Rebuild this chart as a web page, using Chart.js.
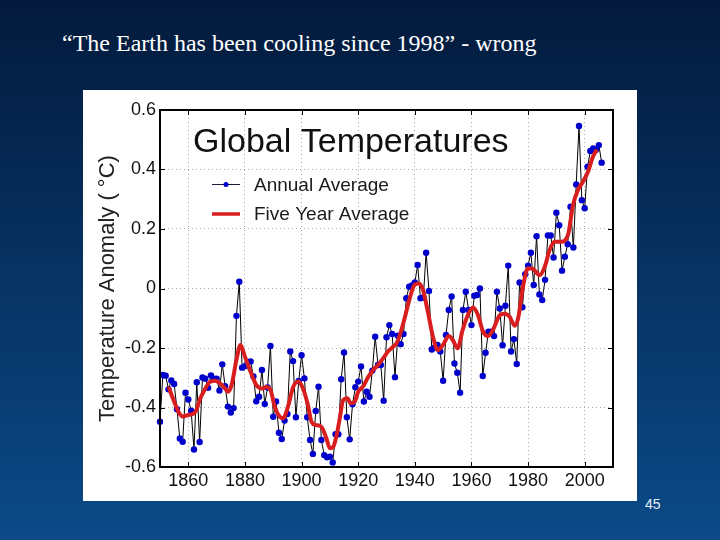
<!DOCTYPE html>
<html lang="en">
<head>
  <meta charset="UTF-8" />
  <title>Global Temperatures</title>
  <script src="https://cdn.jsdelivr.net/npm/chart.js"></script>
  <style>
    body {
      margin: 0;
      width: 720px;
      height: 540px;
      overflow: hidden;
      position: relative;
      background: linear-gradient(to bottom, #031a3c 0%, #0b4a88 100%);
      font-family: 'Liberation Serif', 'Times New Roman', serif;
    }
    .slide-title {
      position: absolute;
      left: 62px;
      top: 31px;
      font-size: 24px;
      line-height: 24px;
      color: #fff;
      white-space: nowrap;
    }
    .panel {
      position: absolute;
      left: 83px;
      top: 90px;
      width: 554px;
      height: 411px;
      background: #fff;
    }
    .page-num {
      position: absolute;
      left: 645px;
      top: 496px;
      font-family: 'Liberation Sans', Arial, sans-serif;
      font-size: 14px;
      line-height: 16px;
      color: #e8eef8;
    }
  </style>
</head>
<body>
  <div class="slide-title">“The Earth has been cooling since 1998” - wrong</div>
  <div class="panel">
    <canvas id="tempChart" width="554" height="411"></canvas>
  </div>
  <div class="page-num">45</div>

  <script>
    // annual values, one per year starting 1850
    const firstYear = 1850;
    const annualValues = [
      -0.448, -0.291, -0.293, -0.339, -0.309, -0.321, -0.406, -0.504, -0.515, -0.350,
      -0.373, -0.411, -0.541, -0.315, -0.516, -0.299, -0.303, -0.334, -0.292, -0.303,
      -0.303, -0.343, -0.255, -0.328, -0.397, -0.417, -0.402, -0.092, 0.023, -0.266,
      -0.261, -0.247, -0.245, -0.296, -0.379, -0.364, -0.274, -0.388, -0.333, -0.193,
      -0.431, -0.380, -0.485, -0.506, -0.444, -0.422, -0.212, -0.244, -0.433, -0.311,
      -0.224, -0.302, -0.433, -0.509, -0.556, -0.412, -0.330, -0.509, -0.560, -0.567,
      -0.565, -0.585, -0.490, -0.490, -0.305, -0.215, -0.433, -0.507, -0.389, -0.332,
      -0.313, -0.262, -0.380, -0.347, -0.364, -0.276, -0.162, -0.257, -0.257, -0.377,
      -0.164, -0.123, -0.153, -0.298, -0.159, -0.187, -0.153, -0.033, 0.006, 0.010,
      0.020, 0.079, -0.033, -0.030, 0.120, -0.008, -0.205, -0.198, -0.190, -0.212,
      -0.310, -0.156, -0.072, -0.027, -0.252, -0.283, -0.350, -0.072, -0.011, -0.072,
      -0.123, -0.024, -0.022, 0.000, -0.294, -0.216, -0.145, -0.145, -0.160, -0.011,
      -0.067, -0.191, -0.058, 0.077, -0.212, -0.170, -0.254, 0.020, -0.063, 0.048,
      0.077, 0.120, 0.012, 0.176, -0.020, -0.039, 0.029, 0.178, 0.178, 0.104,
      0.255, 0.213, 0.060, 0.107, 0.149, 0.275, 0.138, 0.350, 0.546, 0.297,
      0.270, 0.409, 0.462, 0.471, 0.466, 0.482, 0.423
    ];

    // five year average
    const fiveYearYears = [
      1853, 1855, 1856.5, 1858, 1860, 1862, 1863, 1864, 1866, 1867.5,
      1869.5, 1871, 1873, 1874, 1875.3, 1877, 1878.4, 1880, 1882, 1884,
      1886, 1887.6, 1889, 1890.5, 1892.3, 1893.5, 1895.2, 1897, 1898.8, 1900.5,
      1902.3, 1903.5, 1905.2, 1907, 1908.8, 1910, 1911.2, 1912.4, 1913.5, 1914.7,
      1916.2, 1917.3, 1918.8, 1920, 1921.8, 1923.5, 1925.3, 1927, 1928.8, 1930.5,
      1932.3, 1933.5, 1934.6, 1936.4, 1938.2, 1939.9, 1941.4, 1942.9, 1944.6, 1946.4,
      1948.1, 1949.9, 1952, 1953.4, 1955.1, 1956.9, 1958.7, 1960.6, 1962.3, 1964.1,
      1965.8, 1967.6, 1970, 1971.7, 1973.5, 1975.3, 1976.5, 1978.2, 1980, 1981.7,
      1984.1, 1985.9, 1987.6, 1989.4, 1991.7, 1994.1, 1995.9, 1997.6, 1999.4, 2001.2,
      2002.9, 2004.3
    ];
    const fiveYearValues = [
      -0.330, -0.380, -0.414, -0.430, -0.425, -0.420, -0.405, -0.375, -0.336, -0.315,
      -0.310, -0.317, -0.336, -0.347, -0.324, -0.240, -0.190, -0.229, -0.280, -0.324,
      -0.336, -0.331, -0.340, -0.397, -0.431, -0.436, -0.397, -0.332, -0.313, -0.336,
      -0.394, -0.448, -0.459, -0.465, -0.504, -0.537, -0.532, -0.492, -0.436, -0.375,
      -0.369, -0.386, -0.380, -0.347, -0.328, -0.298, -0.274, -0.257, -0.235, -0.212,
      -0.196, -0.185, -0.160, -0.100, -0.033, 0.012, 0.017, -0.005, -0.078, -0.162,
      -0.207, -0.190, -0.160, -0.173, -0.201, -0.139, -0.090, -0.064, -0.089, -0.145,
      -0.160, -0.139, -0.090, -0.085, -0.095, -0.125, -0.100, 0.006, 0.068, 0.066,
      0.045, 0.073, 0.129, 0.157, 0.157, 0.180, 0.281, 0.331, 0.359, 0.393,
      0.443, 0.466
    ];

    const xTickYears = [1860, 1880, 1900, 1920, 1940, 1960, 1980, 2000];
    const yTickValues = [-0.6, -0.4, -0.2, 0, 0.2, 0.4, 0.6];

    const annualPoints = annualValues.map((v, i) => ({ x: firstYear + i, y: v }));
    const fivePoints = fiveYearYears.map((yr, i) => ({ x: yr, y: fiveYearValues[i] }));

    const sansFont = "'Liberation Sans', Arial, Helvetica, sans-serif";

    // black frame, inward ticks, in-plot title and legend
    const framePlugin = {
      id: 'frame',
      afterDatasetsDraw(chart) {
        const { ctx, chartArea: a, scales } = chart;
        ctx.save();
        ctx.strokeStyle = '#000';
        ctx.lineWidth = 1;
        ctx.beginPath();
        xTickYears.forEach(yr => {
          const px = Math.round(scales.x.getPixelForValue(yr)) + 0.5;
          ctx.moveTo(px, a.bottom); ctx.lineTo(px, a.bottom - 5);
          ctx.moveTo(px, a.top); ctx.lineTo(px, a.top + 5);
        });
        yTickValues.forEach(v => {
          const py = Math.round(scales.y.getPixelForValue(v)) + 0.5;
          ctx.moveTo(a.left, py); ctx.lineTo(a.left + 5, py);
          ctx.moveTo(a.right, py); ctx.lineTo(a.right - 5, py);
        });
        ctx.stroke();

        ctx.lineWidth = 2;
        ctx.strokeRect(a.left, a.top, a.right - a.left, a.bottom - a.top);

        ctx.fillStyle = '#111';
        ctx.textBaseline = 'alphabetic';
        ctx.textAlign = 'left';
        ctx.font = '34px ' + sansFont;
        ctx.fillText('Global Temperatures', a.left + 33, a.top + 42);

        // legend
        const lx = a.left + 52;
        ctx.strokeStyle = '#1a1a3a';
        ctx.lineWidth = 1;
        ctx.beginPath();
        ctx.moveTo(lx, a.top + 74.5); ctx.lineTo(lx + 28, a.top + 74.5);
        ctx.stroke();
        ctx.fillStyle = '#0000cc';
        ctx.beginPath();
        ctx.arc(lx + 14, a.top + 74.5, 2.5, 0, Math.PI * 2);
        ctx.fill();
        ctx.strokeStyle = '#d81e1e';
        ctx.lineWidth = 3.5;
        ctx.beginPath();
        ctx.moveTo(lx, a.top + 104); ctx.lineTo(lx + 28, a.top + 104);
        ctx.stroke();

        ctx.fillStyle = '#1a1a1a';
        ctx.font = '19px ' + sansFont;
        ctx.fillText('Annual Average', a.left + 94, a.top + 81);
        ctx.fillText('Five Year Average', a.left + 94, a.top + 110);
        ctx.restore();
      }
    };

    const ctx = document.getElementById('tempChart').getContext('2d');
    new Chart(ctx, {
      type: 'line',
      data: {
        datasets: [
          {
            label: 'Five Year Average',
            data: fivePoints,
            borderColor: '#d81e1e',
            borderWidth: 4,
            pointRadius: 0,
            cubicInterpolationMode: 'monotone',
            fill: false,
            order: 0
          },
          {
            label: 'Annual Average',
            data: annualPoints,
            borderColor: '#000',
            borderWidth: 1,
            pointRadius: 3.2,
            pointBorderWidth: 0,
            pointBackgroundColor: '#0000cc',
            pointBorderColor: '#0000cc',
            tension: 0,
            fill: false,
            clip: false,
            order: 1
          }
        ]
      },
      options: {
        responsive: false,
        animation: false,
        devicePixelRatio: 1,
        layout: { padding: { top: 20, right: 24, bottom: 0, left: 0 } },
        plugins: {
          legend: { display: false },
          tooltip: { enabled: false }
        },
        scales: {
          x: {
            type: 'linear',
            min: 1850,
            max: 2010,
            afterFit: scale => { scale.height = 34; },
            afterBuildTicks: scale => { scale.ticks = xTickYears.map(v => ({ value: v })); },
            ticks: {
              callback: v => String(v),
              font: { family: sansFont, size: 18 },
              color: '#111',
              padding: 3,
              maxRotation: 0,
              autoSkip: false
            },
            grid: { color: '#a8a8a8', lineWidth: 1, drawTicks: false },
            border: { display: false, dash: [1, 3] }
          },
          y: {
            min: -0.6,
            max: 0.6,
            afterFit: scale => { scale.width = 77; },
            afterBuildTicks: scale => { scale.ticks = yTickValues.map(v => ({ value: v })); },
            ticks: {
              callback: v => (v === 0 ? '0' : v.toFixed(1)),
              font: { family: sansFont, size: 18 },
              color: '#111',
              padding: 4
            },
            grid: { color: '#a8a8a8', lineWidth: 1, drawTicks: false },
            border: { display: false, dash: [1, 3] },
            title: {
              display: true,
              text: 'Temperature Anomaly ( °C)',
              font: { family: sansFont, size: 22 },
              color: '#222',
              padding: { top: 12, bottom: 0 }
            }
          }
        }
      },
      plugins: [framePlugin]
    });
  </script>
</body>
</html>
